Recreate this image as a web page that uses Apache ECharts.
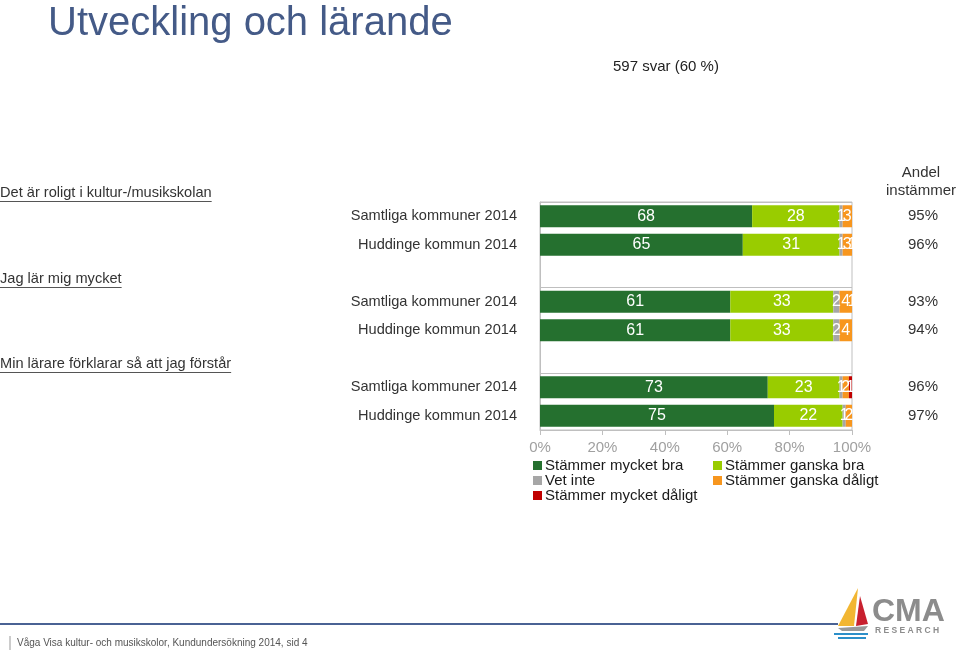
<!DOCTYPE html>
<html><head><meta charset="utf-8">
<script src="https://cdn.jsdelivr.net/npm/echarts@6/dist/echarts.min.js"></script>
<style>html,body{margin:0;padding:0;background:#fff}#c{width:960px;height:650px}</style>
</head><body><div id="c"></div>
<script>
// ---- data ----
const groups = ['Det är roligt i kultur-/musikskolan', 'Jag lär mig mycket', 'Min lärare förklarar så att jag förstår'];
const rowLabels = ['Samtliga kommuner 2014', 'Huddinge kommun 2014'];
const seriesNames = ['Stämmer mycket bra', 'Stämmer ganska bra', 'Vet inte', 'Stämmer ganska dåligt', 'Stämmer mycket dåligt'];
const mycketBra   = [68, 65, 61, 61, 73, 75];
const ganskaBra   = [28, 31, 33, 33, 23, 22];
const vetInte     = [1, 1, 2, 2, 1, 1];
const ganskaDalig = [3, 3, 4, 4, 2, 2];
const mycketDalig = [0, 1, 1, 0, 1, 0];
const andel       = [95, 96, 93, 94, 96, 97];
const xTicks = [0, 20, 40, 60, 80, 100];

const colors = ['#25702F', '#99CC00', '#A6A6A6', '#F7961E', '#C00000'];

// slots: 2 rows per group + a spacer between groups
const slotRow = []; // slot index -> row index or -1
groups.forEach((g, gi) => {
  rowLabels.forEach((r, ri) => slotRow.push(gi * 2 + ri));
  if (gi < groups.length - 1) slotRow.push(-1);
});
const slotKeys = slotRow.map((r, i) => 's' + i);
const slotData = arr => slotRow.map(r => r < 0 ? '-' : arr[r]);

const allSeries = [mycketBra, ganskaBra, vetInte, ganskaDalig, mycketDalig];

const chart = echarts.init(document.getElementById('c'));
const FONT = 'Liberation Sans, Arial, sans-serif';

function textWidth(t, size) {
  const ctx = document.createElement('canvas').getContext('2d');
  ctx.font = size + 'px Liberation Sans';
  return ctx.measureText(t).width;
}

const groupLabelY = [193, 279, 364];
const graphics = [];
groups.forEach((g, i) => {
  const w = textWidth(g, 14.6);
  graphics.push({type: 'text', left: 0, top: groupLabelY[i] - 8,
    style: {text: g, fill: '#333', font: '14.6px ' + FONT}});
  graphics.push({type: 'line', shape: {x1: 0, y1: groupLabelY[i] + 8.5, x2: w, y2: groupLabelY[i] + 8.5},
    style: {stroke: '#555', lineWidth: 1}});
});
graphics.push({type: 'text', x: 921, y: 165, style: {text: 'Andel', fill: '#333', font: '15px ' + FONT, align: 'center'}});
graphics.push({type: 'text', x: 921, y: 183, style: {text: 'instämmer', fill: '#333', font: '15px ' + FONT, align: 'center'}});
// footer line and text
graphics.push({type: 'line', shape: {x1: 0, y1: 624, x2: 838, y2: 624}, style: {stroke: '#4A6294', lineWidth: 2}});
graphics.push({type: 'line', shape: {x1: 10, y1: 636, x2: 10, y2: 650}, style: {stroke: '#999', lineWidth: 1}});
graphics.push({type: 'text', left: 17, top: 638, style: {text: 'Våga Visa kultur- och musikskolor, Kundundersökning 2014, sid 4', fill: '#555', font: '10px ' + FONT}});
// logo
graphics.push({type: 'polygon', shape: {points: [[858, 588], [838, 626], [854, 626]]}, style: {fill: '#F2B632'}});
graphics.push({type: 'polygon', shape: {points: [[860, 596], [856, 626], [868, 624]]}, style: {fill: '#C8202F'}});
graphics.push({type: 'polygon', shape: {points: [[838, 628], [868, 626], [864, 631], [842, 631]]}, style: {fill: '#999'}});
graphics.push({type: 'line', shape: {x1: 834, y1: 634, x2: 868, y2: 634}, style: {stroke: '#2C8FC9', lineWidth: 2}});
graphics.push({type: 'line', shape: {x1: 838, y1: 638, x2: 866, y2: 638}, style: {stroke: '#2C8FC9', lineWidth: 2}});
graphics.push({type: 'text', left: 872, top: 596, style: {text: 'CMA', fill: '#8C8C8C', font: 'bold 32px ' + FONT}});
graphics.push({type: 'text', left: 875, top: 626, style: {text: 'R E S E A R C H', fill: '#8C8C8C', font: 'bold 8.5px ' + FONT}});

chart.setOption({
  animation: false,
  textStyle: {fontFamily: FONT},
  title: [
    {text: 'Utveckling och lärande', left: 48, top: 4, padding: 0,
      textStyle: {fontSize: 40, fontWeight: 'normal', color: '#445A87', fontFamily: FONT}},
    {text: '597 svar (60 %)', left: 613, top: 59, padding: 0,
      textStyle: {fontSize: 15, fontWeight: 'normal', color: '#222', fontFamily: FONT}}
  ],
  grid: {left: 540, right: 108, top: 202, height: 228, show: true, borderColor: '#BFBFBF', borderWidth: 1, containLabel: false},
  legend: [
    {data: [seriesNames[0], seriesNames[2], seriesNames[4]], left: 533, top: 458, orient: 'vertical', padding: 0,
      itemWidth: 9, itemHeight: 9, itemGap: 0, icon: 'rect',
      textStyle: {fontSize: 15, color: '#1a1a1a', lineHeight: 15, padding: [0, 0, 0, -2]}},
    {data: [seriesNames[1], seriesNames[3]], left: 713, top: 458, orient: 'vertical', padding: 0,
      itemWidth: 9, itemHeight: 9, itemGap: 0, icon: 'rect',
      textStyle: {fontSize: 15, color: '#1a1a1a', lineHeight: 15, padding: [0, 0, 0, -2]}}
  ],
  xAxis: {type: 'value', min: 0, max: 100, interval: 20,
    axisLine: {show: true, lineStyle: {color: '#BFBFBF'}},
    axisTick: {show: true, length: 5, lineStyle: {color: '#BFBFBF'}},
    splitLine: {show: false},
    axisLabel: {formatter: v => xTicks.includes(v) ? v + '%' : '', color: '#A0A0A0', fontSize: 15, margin: 10}
  },
  yAxis: [
    {type: 'category', inverse: true, data: slotKeys,
      axisLine: {show: true, lineStyle: {color: '#BFBFBF'}},
      axisTick: {show: false},
      splitLine: {show: true, interval: (i) => i === 0 || slotRow[i - 1] === -1, lineStyle: {color: '#BFBFBF'}},
      axisLabel: {formatter: (v, i) => slotRow[i] < 0 ? '' : rowLabels[slotRow[i] % 2], color: '#333', fontSize: 14.6, margin: 23}
    },
    {type: 'category', inverse: true, data: slotKeys, position: 'right',
      axisLine: {show: false}, axisTick: {show: false}, splitLine: {show: false},
      axisLabel: {formatter: (v, i) => slotRow[i] < 0 ? '' : andel[slotRow[i]] + '%', color: '#333', fontSize: 15, margin: 71, align: 'center'}
    }
  ],
  series: seriesNames.map((n, si) => ({
    name: n, type: 'bar', stack: 'total', yAxisIndex: 0, barWidth: 22,
    itemStyle: {color: colors[si]},
    data: slotData(allSeries[si]),
    label: {show: true, position: 'inside', color: '#fff', fontSize: 16,
      formatter: p => (p.value === 0 || p.value === '-') ? '' : String(p.value)}
  })),
  graphic: graphics
});
</script>
</body></html>
